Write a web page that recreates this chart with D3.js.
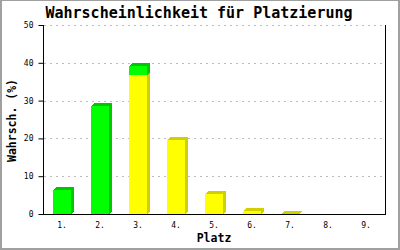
<!DOCTYPE html>
<html><head><meta charset="utf-8">
<script src="https://cdn.jsdelivr.net/npm/d3@7"></script>
<style>html,body{margin:0;padding:0;background:#fff}svg{display:block}</style>
</head><body>
<script>
const categories = ["1.","2.","3.","4.","5.","6.","7.","8.","9."];
const yellowValues = [0, 0, 36.8, 19.6, 5.3, 0.8, 0.1, 0, 0];
const greenValues  = [6.4, 28.6, 2.4, 0, 0, 0, 0, 0, 0];
const yTicks = [0, 10, 20, 30, 40, 50];
const title = "Wahrscheinlichkeit für Platzierung";
const xTitle = "Platz";
const yTitle = "Wahrsch. (%)";

const W = 400, H = 250;
const svg = d3.select("body").append("svg").attr("width", W).attr("height", H);
svg.append("rect").attr("width", W).attr("height", H).attr("fill", "#fff");

const pL = 43, pR = 385, pT = 25, pB = 214;
const x = d3.scaleBand().domain(categories).range([pL, pR]);
const y = d3.scaleLinear().domain([0, 50]).range([pB, pT]);
const mono = "'DejaVu Sans Mono', 'Liberation Mono', monospace";

// gridlines
svg.append("g").selectAll("line").data(yTicks.filter(d => d > 0)).join("line")
  .attr("x1", pL + 1).attr("x2", pR)
  .attr("y1", d => y(d) + 0.5).attr("y2", d => y(d) + 0.5)
  .attr("stroke", "#bbb").attr("stroke-dasharray", "2,4").attr("shape-rendering", "crispEdges");

// bars
const bw = 18, depth = 3;
const colors = {
  yellow: {front: "#ffff00", side: "#d0d000"},
  green: {front: "#00ff00", side: "#00c800"}
};
function drawBar(g, cat, v0, v1, c) {
  if (v1 - v0 <= 0) return;
  const cx = x(cat) + x.bandwidth() / 2;
  const x0 = Math.round(cx - bw / 2), x1 = x0 + bw;
  const yt = Math.round(y(v1)), yb = Math.round(y(v0));
  g.append("path")
    .attr("d", `M${x0},${yt}L${x0 + depth},${yt - depth}L${x1 + depth},${yt - depth}L${x1 + depth},${yb - depth}L${x1},${yb}L${x1},${yt}Z`)
    .attr("fill", c.side).attr("shape-rendering", "crispEdges");
  g.append("rect").attr("x", x0).attr("y", yt).attr("width", bw).attr("height", yb - yt)
    .attr("fill", c.front).attr("shape-rendering", "crispEdges");
}
const bars = svg.append("g");
categories.forEach((cat, i) => {
  const yv = yellowValues[i], gv = greenValues[i];
  drawBar(bars, cat, 0, yv, colors.yellow);
  drawBar(bars, cat, yv, yv + gv, colors.green);
});

// axes
const yAxis = d3.axisLeft(y).tickValues(yTicks).tickSize(5).tickPadding(5);
const gy = svg.append("g").attr("transform", `translate(${pL + 0.5},0)`).call(yAxis);
gy.select(".domain").attr("d", `M0,${pT}V${pB + 0.5}`);
gy.selectAll("text").attr("font-family", mono).attr("font-size", 8).attr("fill", "#000");
gy.selectAll(".tick line").attr("stroke", "#000");

svg.append("line").attr("x1", pR + 0.5).attr("x2", pR + 0.5).attr("y1", pT).attr("y2", pB)
  .attr("stroke", "#000");

const xAxis = d3.axisBottom(x).tickSize(0).tickPadding(8);
const gx = svg.append("g").attr("transform", `translate(0,${pB + 0.5})`).call(xAxis);
gx.select(".domain").attr("d", `M${pL},0H${pR + 1}`).attr("stroke", "#000");
gx.selectAll("text").attr("font-family", mono).attr("font-size", 8).attr("fill", "#000");

// titles
svg.append("text").attr("x", 199).attr("y", 18).attr("text-anchor", "middle")
  .attr("font-family", mono).attr("font-weight", "bold").attr("font-size", 15).text(title);
svg.append("text").attr("x", (pL + pR) / 2).attr("y", 242).attr("text-anchor", "middle")
  .attr("font-family", mono).attr("font-weight", "bold").attr("font-size", 11.5).text(xTitle);
svg.append("text").attr("transform", `translate(16,${(pT + pB) / 2 + 1}) rotate(-90)`)
  .attr("text-anchor", "middle")
  .attr("font-family", mono).attr("font-weight", "bold").attr("font-size", 11.5).text(yTitle);

// frame
const fr = svg.append("g").attr("stroke", "#a0a0a0").attr("shape-rendering", "crispEdges");
fr.append("line").attr("x1", 0).attr("x2", W).attr("y1", 0.5).attr("y2", 0.5);
fr.append("line").attr("x1", 1).attr("x2", 1).attr("y1", 0).attr("y2", H).attr("stroke-width", 2);
fr.append("line").attr("x1", W - 1).attr("x2", W - 1).attr("y1", 0).attr("y2", H).attr("stroke-width", 2);
fr.append("line").attr("x1", 0).attr("x2", W).attr("y1", H - 1).attr("y2", H - 1).attr("stroke-width", 2);
</script>
</body></html>
